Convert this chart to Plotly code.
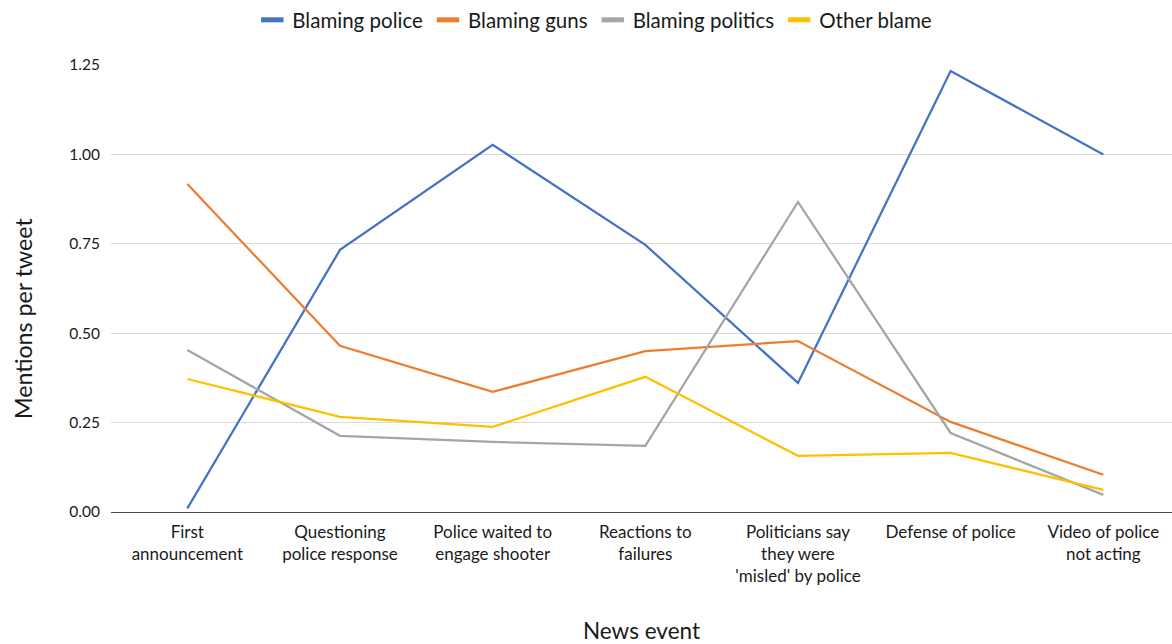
import plotly.graph_objects as go

events = [
    "First<br>announcement",
    "Questioning<br>police response",
    "Police waited to<br>engage shooter",
    "Reactions to<br>failures",
    "Politicians say<br>they were<br>'misled' by police",
    "Defense of police",
    "Video of police<br>not acting",
]

blaming_police = [0.01, 0.733, 1.027, 0.747, 0.361, 1.233, 1.00]
blaming_guns = [0.917, 0.465, 0.336, 0.450, 0.478, 0.252, 0.104]
blaming_politics = [0.453, 0.213, 0.196, 0.185, 0.867, 0.221, 0.048]
other_blame = [0.372, 0.266, 0.238, 0.378, 0.157, 0.165, 0.062]

y_ticks = [0, 0.25, 0.5, 0.75, 1.0, 1.25]
y_tick_labels = ["0.00", "0.25", "0.50", "0.75", "1.00", "1.25"]

series = [
    ("Blaming police", blaming_police, "#4472C4"),
    ("Blaming guns", blaming_guns, "#ED7D31"),
    ("Blaming politics", blaming_politics, "#A5A5A5"),
    ("Other blame", other_blame, "#FFC000"),
]

font_family = "Lato, 'Open Sans', sans-serif"

fig = go.Figure()
for name, values, color in series:
    fig.add_trace(go.Scatter(
        x=events, y=values, name=name, mode="lines",
        line=dict(color=color, width=2.25),
        showlegend=False,
    ))

# Legend keys drawn as short thick bars
for name, values, color in series:
    fig.add_trace(go.Scatter(
        x=[None], y=[None], name=name, mode="markers",
        marker=dict(symbol="line-ew-open", size=16, color=color,
                    line=dict(color=color, width=5)),
        showlegend=True,
    ))

fig.update_layout(
    width=1172, height=644,
    margin=dict(l=111, r=0, t=65, b=132),
    paper_bgcolor="white", plot_bgcolor="white",
    font=dict(family=font_family, color="#1a1a1a", size=15),
    showlegend=True,
    legend=dict(
        orientation="h", x=0.456, xanchor="center", y=1.0, yanchor="top",
        yref="container", font=dict(size=20.5), itemwidth=30,
        traceorder="normal", itemsizing="trace",
    ),
    xaxis=dict(
        type="category", range=[-0.5, 6.45], automargin=False,
        showgrid=False, showline=False, ticks="",
        tickfont=dict(size=17), zeroline=False, ticklabelstandoff=8,
        title=dict(text="News event", font=dict(size=22.5), standoff=42),
    ),
    yaxis=dict(
        range=[0, 1.25], tickvals=y_ticks, ticktext=y_tick_labels,
        automargin=False,
        showgrid=True, gridcolor="#D9D9D9", gridwidth=1,
        zeroline=True, zerolinecolor="#4d4d4d", zerolinewidth=1.3,
        showline=False, ticks="", ticklabelstandoff=10,
        tickfont=dict(size=15.5),
    ),
    annotations=[dict(
        text="Mentions per tweet", textangle=-90,
        xref="paper", yref="paper",
        x=(23 - 111) / 1061, y=(512 - 319) / 447,
        xanchor="center", yanchor="middle", showarrow=False,
        font=dict(size=23.2, family=font_family, color="#1a1a1a"),
    )],
)

fig.write_html("out.html")
